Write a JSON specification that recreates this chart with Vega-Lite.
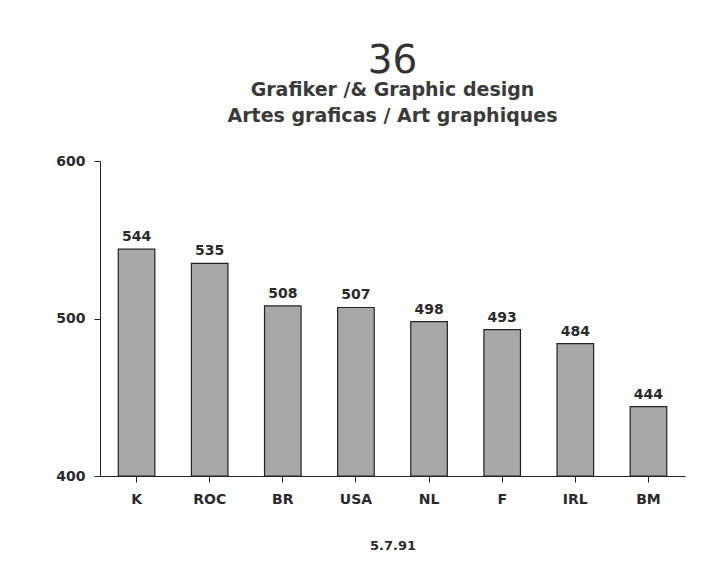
{
  "$schema": "https://vega.github.io/schema/vega-lite/v6.json",
  "width": 585,
  "height": 315,
  "autosize": "none",
  "padding": {"left": 100, "top": 161, "right": 41, "bottom": 94},
  "background": "white",
  "title": {
    "text": "36",
    "subtitle": ["Grafiker /& Graphic design", "Artes graficas / Art graphiques"],
    "anchor": "middle",
    "font": "DejaVu Sans",
    "fontSize": 39,
    "fontWeight": "normal",
    "color": "#333",
    "subtitleFont": "DejaVu Sans",
    "subtitleFontSize": 19,
    "subtitleFontWeight": "bold",
    "subtitleColor": "#3a3a3a",
    "subtitleLineHeight": 26,
    "subtitlePadding": 0,
    "offset": 28
  },
  "data": {
    "values": [
      {"country": "K", "value": 544},
      {"country": "ROC", "value": 535},
      {"country": "BR", "value": 508},
      {"country": "USA", "value": 507},
      {"country": "NL", "value": 498},
      {"country": "F", "value": 493},
      {"country": "IRL", "value": 484},
      {"country": "BM", "value": 444}
    ]
  },
  "config": {
    "view": {"stroke": null},
    "axis": {
      "labelFont": "DejaVu Sans",
      "labelFontWeight": "bold",
      "labelFontSize": 14,
      "labelColor": "#2a2a2a",
      "domainColor": "#222",
      "tickColor": "#222",
      "grid": false
    }
  },
  "layer": [
    {
      "mark": {"type": "bar", "fill": "#a8a8a8", "stroke": "#222", "strokeWidth": 1.2},
      "encoding": {
        "x": {
          "field": "country",
          "type": "nominal",
          "sort": null,
          "scale": {"paddingInner": 0.5, "paddingOuter": 0.25},
          "axis": {
            "labelAngle": 0,
            "tickSize": 6,
            "labelPadding": 10,
            "title": "5.7.91",
            "titleFont": "DejaVu Sans",
            "titleFontWeight": "bold",
            "titleFontSize": 13,
            "titleColor": "#2a2a2a",
            "titlePadding": 33
          }
        },
        "y": {
          "field": "value",
          "type": "quantitative",
          "scale": {"domain": [400, 600]},
          "axis": {"values": [400, 500, 600], "tickSize": 6, "labelPadding": 9, "title": null}
        },
        "y2": {"datum": 400}
      }
    },
    {
      "mark": {"type": "text", "dy": -12, "font": "DejaVu Sans", "fontWeight": "bold", "fontSize": 14, "color": "#2a2a2a"},
      "encoding": {
        "x": {"field": "country", "type": "nominal", "sort": null},
        "y": {"field": "value", "type": "quantitative"},
        "text": {"field": "value"}
      }
    }
  ]
}
